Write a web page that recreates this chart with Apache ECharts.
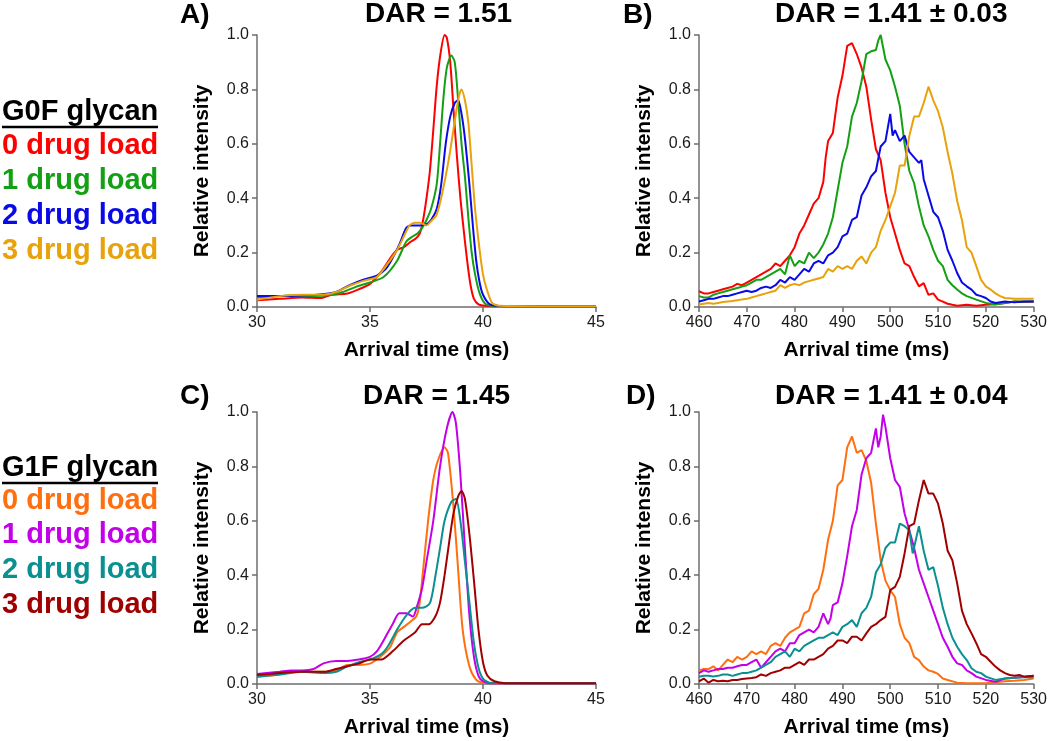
<!DOCTYPE html>
<html><head><meta charset="utf-8">
<script src="https://cdn.jsdelivr.net/npm/echarts@6/dist/echarts.min.js"></script>
<style>html,body{margin:0;padding:0;background:#fff}#c{width:1050px;height:741px}</style>
</head><body><div id="c"></div><script>
// ---------- data ----------
const panelTitles = ['DAR = 1.51', 'DAR = 1.41 \u00b1 0.03', 'DAR = 1.45', 'DAR = 1.41 \u00b1 0.04'];
const panelLetters = ['A)', 'B)', 'C)', 'D)'];
const legendHeaders = ['G0F glycan', 'G1F glycan'];
const legendLabels = ['0 drug load', '1 drug load', '2 drug load', '3 drug load'];
const g0fColors = ['#ff0000', '#14a014', '#0a0ae6', '#e8a20c'];
const g1fColors = ['#ff6f0f', '#c400e8', '#0a9090', '#a00000'];
const xRangeA = [30, 45, 5];
const xRangeB = [460, 530, 10];

// Panel A (G0F, 30-45 ms)
const aLoad0 = [[30,0.025],[31,0.03],[32,0.035],[32.8,0.033],[33.3,0.045],[34,0.05],[34.5,0.065],[35,0.085],[35.5,0.13],[35.9,0.18],[36.2,0.21],[36.5,0.22],[36.8,0.24],[37.0,0.25],[37.2,0.27],[37.35,0.32],[37.5,0.4],[37.65,0.5],[37.8,0.65],[37.95,0.81],[38.1,0.92],[38.3,1.0],[38.4,0.99],[38.55,0.9],[38.7,0.72],[38.85,0.55],[39.0,0.4],[39.15,0.28],[39.3,0.17],[39.45,0.08],[39.6,0.03],[39.8,0.01],[40.1,0.005],[41,0.003],[45,0.003]];
const aLoad1 = [[30,0.035],[31,0.04],[31.5,0.042],[32.5,0.04],[33.3,0.045],[33.8,0.055],[34.4,0.075],[35,0.09],[35.6,0.11],[36.2,0.17],[36.6,0.24],[36.9,0.26],[37.1,0.27],[37.3,0.29],[37.5,0.32],[37.7,0.36],[37.95,0.45],[38.1,0.6],[38.25,0.77],[38.4,0.88],[38.6,0.925],[38.75,0.9],[38.9,0.76],[39.05,0.6],[39.2,0.48],[39.35,0.33],[39.5,0.2],[39.65,0.12],[39.85,0.05],[40.1,0.012],[40.5,0.004],[45,0.003]];
const aLoad2 = [[30,0.04],[31,0.04],[32,0.042],[33,0.048],[33.5,0.055],[34.1,0.08],[34.7,0.1],[35.3,0.115],[35.7,0.14],[36.0,0.18],[36.3,0.23],[36.6,0.29],[36.8,0.3],[37.2,0.3],[37.5,0.305],[37.7,0.32],[37.95,0.36],[38.15,0.45],[38.35,0.6],[38.55,0.7],[38.75,0.75],[38.9,0.76],[39.05,0.71],[39.2,0.62],[39.4,0.45],[39.55,0.3],[39.7,0.17],[39.85,0.09],[40.0,0.045],[40.3,0.01],[40.7,0.004],[45,0.003]];
const aLoad3 = [[30,0.027],[31,0.04],[32,0.045],[32.9,0.045],[33.5,0.055],[34.1,0.078],[34.7,0.096],[35.3,0.11],[35.7,0.15],[36.2,0.21],[36.5,0.26],[36.75,0.3],[37.0,0.31],[37.2,0.31],[37.5,0.3],[37.7,0.315],[37.95,0.34],[38.2,0.42],[38.5,0.55],[38.8,0.71],[38.95,0.78],[39.05,0.8],[39.2,0.76],[39.35,0.68],[39.5,0.52],[39.65,0.36],[39.85,0.21],[40.0,0.12],[40.15,0.07],[40.4,0.015],[40.7,0.005],[45,0.003]];

// Panel B (G0F, 460-530 ms)
const bLoad0 = [[460,0.058],[461,0.05],[462,0.05],[463,0.055],[464,0.06],[465,0.065],[466,0.07],[467,0.075],[468,0.085],[469,0.08],[470,0.09],[471,0.1],[472,0.11],[473,0.12],[474,0.13],[475,0.14],[476,0.16],[477,0.15],[478,0.17],[479,0.19],[480,0.22],[481,0.27],[482,0.3],[483,0.34],[484,0.38],[485,0.4],[486,0.46],[486.5,0.55],[487,0.61],[488,0.64],[489,0.77],[490,0.85],[491,0.96],[492,0.97],[493,0.93],[494,0.88],[495,0.81],[496,0.69],[497,0.58],[498,0.54],[499,0.42],[500,0.33],[501,0.27],[502,0.21],[503,0.16],[504,0.15],[505,0.11],[506,0.076],[507,0.088],[508,0.045],[509,0.05],[510,0.027],[511,0.02],[512,0.012],[513,0.008],[514,0.005],[516,0.008],[518,0.005],[520,0.008],[522,0.01],[524,0.015],[526,0.02],[528,0.018],[530,0.02]];
const bLoad1 = [[460,0.04],[461,0.035],[462,0.035],[463,0.045],[464,0.05],[465,0.055],[466,0.06],[467,0.065],[468,0.07],[469,0.075],[470,0.08],[471,0.09],[472,0.1],[473,0.1],[474,0.11],[475,0.12],[476,0.13],[477,0.14],[478,0.12],[479,0.19],[480,0.15],[481,0.17],[482,0.16],[483,0.2],[484,0.18],[485,0.2],[486,0.23],[487,0.27],[488,0.33],[489,0.43],[490,0.53],[491,0.59],[492,0.7],[493,0.75],[494,0.83],[495,0.93],[496,0.94],[497,0.945],[497.5,0.98],[498,1.0],[499,0.91],[500,0.87],[501,0.81],[502,0.74],[503,0.6],[504,0.5],[505,0.455],[506,0.37],[507,0.3],[508,0.26],[509,0.21],[510,0.17],[511,0.15],[512,0.1],[513,0.08],[514,0.064],[515,0.05],[516,0.04],[518,0.027],[520,0.015],[522,0.009],[524,0.015],[526,0.02],[528,0.02],[530,0.02]];
const bLoad2 = [[460,0.02],[461,0.025],[462,0.03],[463,0.03],[464,0.035],[465,0.04],[466,0.04],[467,0.045],[468,0.05],[469,0.055],[470,0.06],[471,0.055],[472,0.06],[473,0.07],[474,0.075],[475,0.07],[476,0.08],[477,0.1],[478,0.09],[479,0.11],[480,0.1],[481,0.12],[482,0.14],[483,0.13],[484,0.16],[485,0.17],[486,0.16],[487,0.19],[488,0.2],[489,0.22],[490,0.26],[491,0.27],[492,0.32],[493,0.33],[494,0.41],[495,0.44],[496,0.48],[497,0.5],[498,0.59],[499,0.61],[500,0.71],[500.5,0.63],[501,0.65],[502,0.61],[503,0.63],[504,0.57],[505,0.55],[506,0.53],[506.5,0.54],[507,0.47],[508,0.41],[509,0.35],[510,0.33],[511,0.28],[512,0.21],[513,0.17],[514,0.125],[515,0.09],[516,0.076],[517,0.064],[518,0.045],[519,0.04],[520,0.033],[521,0.02],[522,0.015],[524,0.02],[526,0.017],[528,0.02],[530,0.02]];
const bLoad3 = [[460,0.009],[461,0.012],[462,0.015],[463,0.012],[464,0.015],[465,0.018],[466,0.02],[467,0.022],[468,0.025],[469,0.028],[470,0.03],[471,0.035],[472,0.04],[473,0.045],[474,0.05],[475,0.055],[476,0.06],[477,0.08],[478,0.07],[479,0.08],[480,0.085],[481,0.08],[482,0.09],[483,0.095],[484,0.1],[485,0.105],[486,0.11],[487,0.14],[488,0.13],[489,0.15],[490,0.14],[491,0.15],[492,0.14],[493,0.17],[494,0.186],[495,0.16],[496,0.2],[497,0.22],[498,0.28],[499,0.32],[500,0.37],[501,0.42],[502,0.52],[503,0.52],[504,0.63],[505,0.7],[506,0.7],[507,0.75],[508,0.81],[509,0.76],[510,0.72],[511,0.66],[512,0.57],[513,0.49],[514,0.39],[515,0.32],[516,0.22],[517,0.2],[518,0.15],[519,0.1],[520,0.076],[521,0.064],[522,0.05],[523,0.04],[524,0.033],[526,0.03],[528,0.03],[530,0.03]];

// Panel C (G1F, 30-45 ms)
const cLoad0 = [[30,0.027],[31,0.035],[31.5,0.045],[32,0.045],[33,0.045],[33.5,0.05],[34,0.07],[34.5,0.07],[35,0.075],[35.3,0.09],[35.6,0.11],[35.9,0.137],[36.2,0.19],[36.5,0.21],[36.8,0.23],[37.06,0.25],[37.2,0.3],[37.35,0.42],[37.57,0.6],[37.8,0.75],[38.0,0.82],[38.3,0.87],[38.45,0.85],[38.68,0.665],[38.9,0.42],[39.1,0.2],[39.4,0.064],[39.7,0.015],[40,0.005],[41,0.003],[45,0.003]];
const cLoad1 = [[30,0.037],[31,0.045],[31.5,0.05],[32,0.05],[32.5,0.055],[32.94,0.076],[33.5,0.085],[34,0.085],[34.5,0.09],[35,0.1],[35.3,0.12],[35.6,0.16],[36,0.22],[36.3,0.26],[36.6,0.26],[36.9,0.248],[37.06,0.28],[37.3,0.35],[37.5,0.45],[37.8,0.6],[38.1,0.8],[38.4,0.94],[38.65,1.0],[38.8,0.96],[39.0,0.77],[39.2,0.5],[39.4,0.25],[39.6,0.1],[39.8,0.03],[40,0.01],[40.3,0.003],[45,0.003]];
const cLoad2 = [[30,0.027],[31,0.035],[32,0.045],[33,0.04],[33.5,0.045],[34,0.065],[34.5,0.08],[35,0.09],[35.5,0.11],[35.8,0.14],[36.2,0.2],[36.5,0.24],[36.8,0.27],[37.0,0.28],[37.3,0.28],[37.65,0.297],[37.9,0.4],[38.1,0.5],[38.3,0.6],[38.6,0.67],[38.8,0.68],[39.0,0.6],[39.2,0.45],[39.4,0.3],[39.6,0.15],[39.8,0.06],[40,0.02],[40.3,0.005],[45,0.003]];
const cLoad3 = [[30,0.033],[31,0.04],[32,0.045],[32.5,0.045],[33,0.045],[33.5,0.055],[34,0.065],[34.5,0.075],[35,0.09],[35.5,0.09],[36,0.12],[36.5,0.16],[37,0.19],[37.3,0.22],[37.6,0.22],[37.9,0.25],[38.1,0.3],[38.3,0.4],[38.5,0.52],[38.7,0.63],[38.9,0.69],[39.05,0.71],[39.2,0.68],[39.4,0.55],[39.6,0.38],[39.8,0.2],[40,0.08],[40.2,0.03],[40.5,0.01],[41,0.003],[45,0.003]];

// Panel D (G1F, 460-530 ms)
const dLoad0 = [[460,0.05],[461,0.055],[462,0.055],[463,0.065],[464,0.05],[465,0.07],[466,0.09],[467,0.08],[468,0.1],[469,0.09],[470,0.1],[471,0.12],[472,0.11],[473,0.12],[474,0.11],[475,0.14],[476,0.15],[477,0.14],[478,0.17],[479,0.19],[480,0.2],[481,0.21],[482,0.26],[483,0.27],[484,0.33],[485,0.35],[486,0.42],[487,0.53],[488,0.6],[489,0.73],[490,0.75],[491,0.87],[492,0.91],[493,0.85],[494,0.86],[495,0.82],[496,0.74],[497,0.59],[498,0.455],[499,0.38],[500,0.345],[501,0.32],[502,0.22],[503,0.17],[504,0.15],[505,0.1],[506,0.088],[507,0.064],[508,0.05],[509,0.045],[510,0.037],[511,0.02],[512,0.015],[514,0.005],[516,0.003],[520,0.003],[522,0.006],[524,0.01],[526,0.012],[528,0.015],[530,0.02]];
const dLoad1 = [[460,0.04],[461,0.05],[462,0.045],[463,0.05],[464,0.055],[465,0.055],[466,0.06],[467,0.06],[468,0.065],[469,0.07],[470,0.07],[471,0.08],[472,0.09],[473,0.06],[474,0.08],[475,0.1],[476,0.12],[477,0.13],[478,0.12],[479,0.15],[480,0.15],[481,0.18],[482,0.19],[483,0.2],[484,0.19],[485,0.21],[486,0.26],[487,0.22],[487.5,0.24],[488,0.29],[489,0.3],[490,0.37],[491,0.47],[492,0.58],[493,0.64],[494,0.77],[495,0.83],[496,0.85],[497,0.94],[497.5,0.87],[498,0.91],[498.5,0.99],[499,0.945],[500,0.83],[501,0.75],[502,0.725],[503,0.627],[504,0.565],[505,0.5],[506,0.42],[507,0.37],[508,0.32],[509,0.27],[510,0.22],[511,0.17],[512,0.137],[513,0.1],[514,0.076],[515,0.07],[516,0.05],[517,0.04],[518,0.027],[520,0.015],[522,0.008],[524,0.02],[526,0.023],[528,0.027],[530,0.03]];
const dLoad2 = [[460,0.027],[461,0.03],[462,0.03],[463,0.028],[464,0.03],[465,0.035],[466,0.035],[467,0.03],[468,0.035],[469,0.04],[470,0.04],[471,0.045],[472,0.05],[473,0.06],[474,0.07],[475,0.08],[476,0.1],[477,0.11],[478,0.12],[479,0.1],[480,0.13],[481,0.12],[482,0.14],[483,0.15],[484,0.16],[485,0.17],[486,0.17],[487,0.18],[488,0.19],[489,0.18],[490,0.21],[491,0.22],[492,0.235],[493,0.21],[494,0.26],[495,0.28],[496,0.32],[497,0.41],[498,0.44],[499,0.5],[500,0.52],[501,0.52],[502,0.59],[503,0.58],[504,0.565],[504.7,0.48],[506,0.58],[507,0.49],[508,0.42],[509,0.43],[510,0.36],[511,0.28],[512,0.22],[513,0.17],[514,0.137],[515,0.11],[516,0.088],[517,0.058],[518,0.045],[519,0.04],[520,0.027],[522,0.015],[524,0.02],[526,0.023],[528,0.025],[530,0.025]];
const dLoad3 = [[460,0.01],[461,0.02],[462,0.005],[463,0.015],[464,0.01],[465,0.012],[466,0.01],[467,0.015],[468,0.015],[469,0.018],[470,0.02],[471,0.022],[472,0.025],[473,0.035],[474,0.03],[475,0.04],[476,0.045],[477,0.05],[478,0.06],[479,0.06],[480,0.07],[481,0.08],[482,0.07],[483,0.09],[484,0.09],[485,0.1],[486,0.11],[487,0.13],[488,0.14],[489,0.16],[490,0.16],[491,0.15],[492,0.174],[493,0.174],[494,0.16],[495,0.186],[496,0.21],[497,0.22],[498,0.235],[499,0.247],[500,0.345],[501,0.357],[502,0.394],[503,0.48],[504,0.58],[505,0.59],[506,0.675],[507,0.75],[508,0.7],[509,0.7],[510,0.663],[511,0.59],[512,0.49],[513,0.455],[514,0.37],[515,0.27],[516,0.22],[517,0.186],[518,0.15],[519,0.11],[520,0.1],[521,0.082],[522,0.064],[523,0.05],[524,0.04],[525,0.033],[526,0.03],[527,0.033],[528,0.027],[530,0.03]];

// ---------- chart ----------
const FONT = '"Liberation Sans", Arial, sans-serif';
const chart = echarts.init(document.getElementById('c'), null, {renderer: 'canvas'});

const grids = [
  {left: 257, top: 35, width: 339, height: 272},
  {left: 699, top: 35, width: 338, height: 272},
  {left: 257, top: 412, width: 339, height: 272},
  {left: 699, top: 412, width: 338, height: 272}
];
const axisLineStyle = {show: true, lineStyle: {color: '#6e6e6e', width: 1.5}};
const tickStyle = {show: true, inside: false, length: 5, lineStyle: {color: '#6e6e6e', width: 1.5}};
const xRanges = [xRangeA, xRangeB, xRangeA, xRangeB];
const xAxes = xRanges.map((r, i) => ({
  type: 'value', gridIndex: i, min: r[0], max: r[1], interval: r[2],
  axisLine: axisLineStyle, axisTick: tickStyle, splitLine: {show: false},
  axisLabel: {color: '#1a1a1a', fontSize: 16, fontFamily: FONT, margin: 8},
  name: 'Arrival time (ms)', nameLocation: 'middle', nameGap: 33,
  nameTextStyle: {fontSize: 21, fontWeight: 'bold', color: '#000', fontFamily: FONT}
}));
const yAxes = grids.map((g, i) => ({
  type: 'value', gridIndex: i, min: 0, max: 1, interval: 0.2,
  axisLine: axisLineStyle, axisTick: tickStyle, splitLine: {show: false},
  axisLabel: {color: '#1a1a1a', fontSize: 16, fontFamily: FONT, margin: 8, formatter: v => v.toFixed(1)},
  name: 'Relative intensity', nameLocation: 'middle', nameGap: 44, nameRotate: 90,
  nameTextStyle: {fontSize: 21, fontWeight: 'bold', color: '#000', fontFamily: FONT}
}));

const panelData = [
  [aLoad0, aLoad1, aLoad2, aLoad3],
  [bLoad0, bLoad1, bLoad2, bLoad3],
  [cLoad0, cLoad1, cLoad2, cLoad3],
  [dLoad0, dLoad1, dLoad2, dLoad3]
];
const series = [];
panelData.forEach((list, p) => {
  const cols = p < 2 ? g0fColors : g1fColors;
  list.forEach((d, k) => {
    series.push({
      type: 'line', xAxisIndex: p, yAxisIndex: p, data: d,
      showSymbol: false, symbol: 'none', smooth: (p % 2 === 0) ? 0.25 : false,
      lineStyle: {color: cols[k], width: 2}, itemStyle: {color: cols[k]},
      silent: true, animation: false
    });
  });
});

// titles & legend text
const graphic = [];
const letterPos = [[180, 15], [623, 15], [180, 396], [626, 396]];
const titlePos = [[365, 14], [775, 14], [363, 396], [775, 396]];
panelLetters.forEach((t, i) => graphic.push({type: 'text', x: letterPos[i][0], y: letterPos[i][1],
  style: {text: t, font: 'bold 28px ' + FONT, fill: '#000', textVerticalAlign: 'middle', verticalAlign: 'middle'}}));
panelTitles.forEach((t, i) => graphic.push({type: 'text', x: titlePos[i][0], y: titlePos[i][1],
  style: {text: t, font: 'bold 28px ' + FONT, fill: '#000', textVerticalAlign: 'middle', verticalAlign: 'middle'}}));

const legendBlocks = [
  {header: legendHeaders[0], y: 112, colors: g0fColors, rows: [146, 181, 216, 251]},
  {header: legendHeaders[1], y: 468, colors: g1fColors, rows: [501, 535, 570, 605]}
];
legendBlocks.forEach(b => {
  graphic.push({type: 'text', x: 2, y: b.y, style: {text: b.header, font: 'bold 29px ' + FONT, fill: '#000', verticalAlign: 'middle', textVerticalAlign: 'middle'}});
  graphic.push({type: 'line', shape: {x1: 2, y1: b.y + 15, x2: 158, y2: b.y + 15}, style: {stroke: '#000', lineWidth: 2.5}});
  legendLabels.forEach((t, k) => graphic.push({type: 'text', x: 2, y: b.rows[k],
    style: {text: t, font: 'bold 29px ' + FONT, fill: b.colors[k], verticalAlign: 'middle', textVerticalAlign: 'middle'}}));
});

chart.setOption({
  animation: false,
  backgroundColor: '#fff',
  grid: grids,
  xAxis: xAxes,
  yAxis: yAxes,
  series: series,
  graphic: graphic
});
</script></body></html>
